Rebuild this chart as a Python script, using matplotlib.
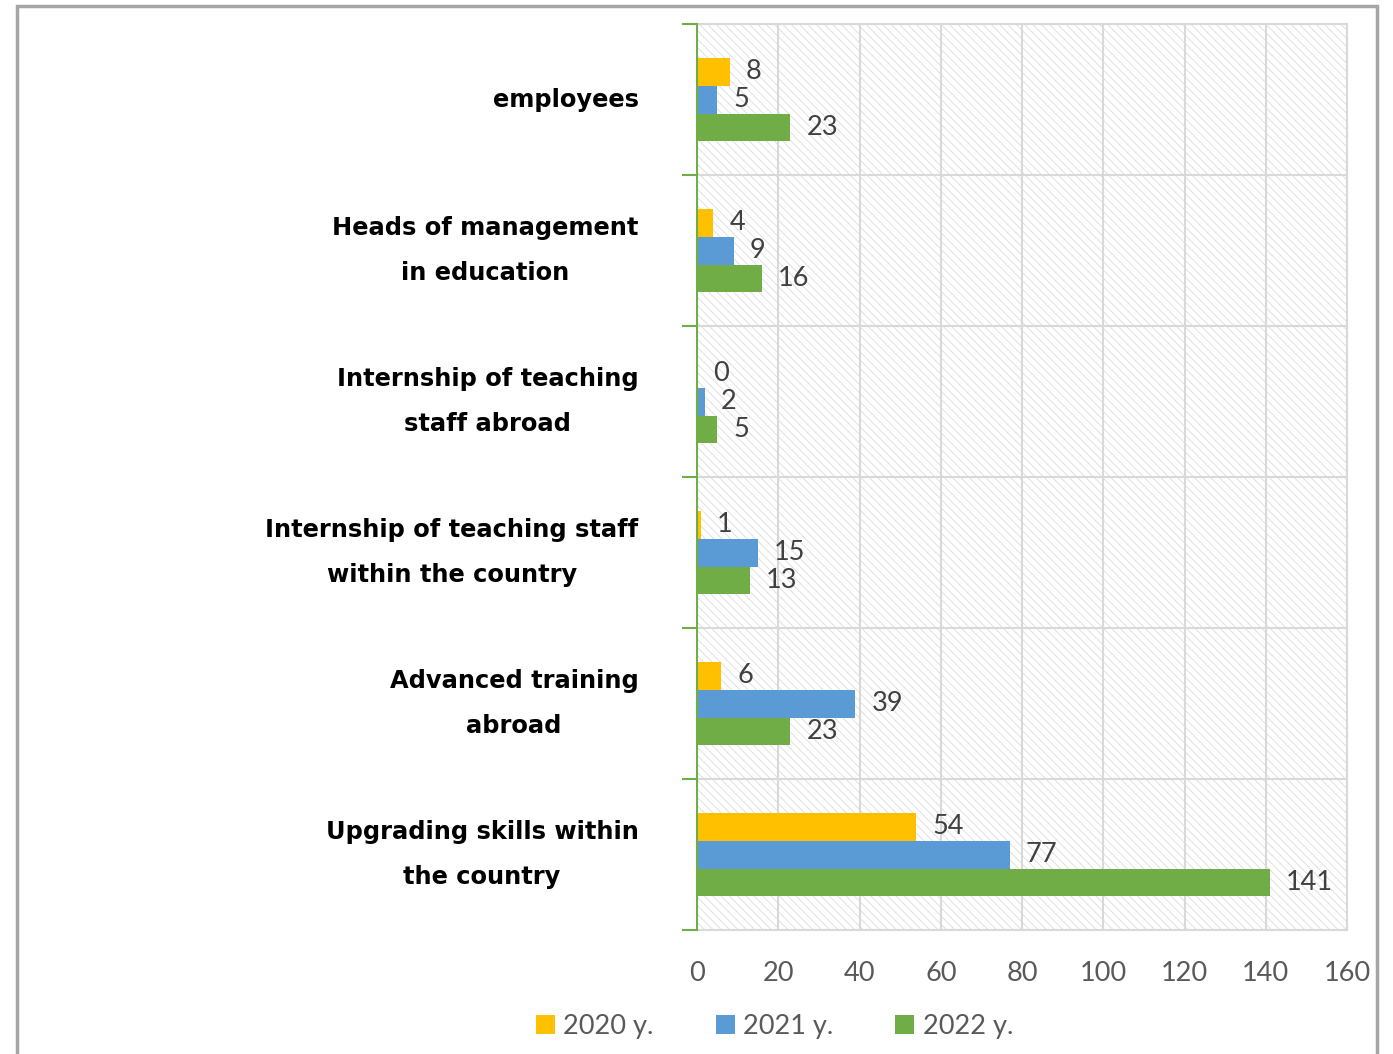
import matplotlib
matplotlib.use("Agg")
import matplotlib.pyplot as plt
import matplotlib.patches as mpatches
import numpy as np

# data, top category first
categories = [
    "employees",
    "Heads of management\nin education",
    "Internship of teaching\nstaff abroad",
    "Internship of teaching staff\nwithin the country",
    "Advanced training\nabroad",
    "Upgrading skills within\nthe country",
]
series_names = ["2020 y.", "2021 y.", "2022 y."]
values_2020 = [8, 4, 0, 1, 6, 54]
values_2021 = [5, 9, 2, 15, 39, 77]
values_2022 = [23, 16, 5, 13, 23, 141]
x_ticks = [0, 20, 40, 60, 80, 100, 120, 140, 160]

colors = ["#FFC000", "#5B9BD5", "#70AD47"]
num_font = "Lato"
num_size = 19.5

plt.rcParams["hatch.linewidth"] = 0.6

fig = plt.figure(figsize=(13.93, 10.54), dpi=100)
ax = fig.add_axes([0.5004, 0.1176, 0.4666, 0.8596])

# hatched background like the excel plot area
bg = mpatches.Rectangle((0, 0), 1, 1, transform=ax.transAxes, facecolor="white",
                        edgecolor="#DCDCDC", hatch="\\\\\\\\", linewidth=0, zorder=0)
ax.add_patch(bg)

y = np.arange(len(categories))
h = 0.185
all_vals = [values_2020, values_2021, values_2022]
for i, (vals, name, col) in enumerate(zip(all_vals, series_names, colors)):
    pos = y + (i - 1) * h
    ax.barh(pos, vals, height=h, color=col, label=name, zorder=3)
    for p, v in zip(pos, vals):
        ax.annotate(str(v), (v, p), xytext=(11.5, 0), textcoords="offset points",
                    ha="left", va="center", fontsize=num_size, color="#404040",
                    family=num_font, zorder=4)

ax.set_xlim(0, 160)
ax.set_ylim(len(categories) - 0.5, -0.5)
ax.set_xticks(x_ticks)
ax.set_xticklabels([str(t) for t in x_ticks], fontsize=num_size, color="#595959", family=num_font)
ax.tick_params(axis="x", length=0, pad=22)

# category boundaries as ticks + gridlines
bounds = np.arange(-0.5, len(categories), 1.0)
ax.set_yticks(bounds)
ax.set_yticklabels([])
ax.tick_params(axis="y", length=11, width=1.5, color="#70AD47", direction="out")
for b in bounds:
    ax.axhline(b, color="#D9D9D9", linewidth=1.5, zorder=1)
for t in x_ticks[1:]:
    ax.axvline(t, color="#D9D9D9", linewidth=1.5, zorder=1)

for yy, lab in zip(y, categories):
    ax.text(-0.09, yy, lab, transform=ax.get_yaxis_transform(), ha="right", va="center",
            multialignment="center", fontsize=17.4, fontweight="bold",
            family="DejaVu Sans", linespacing=2.1, color="black")

for s in ["top", "right", "bottom"]:
    ax.spines[s].set_color("#D9D9D9")
    ax.spines[s].set_linewidth(1.5)
ax.spines["left"].set_color("#70AD47")
ax.spines["left"].set_linewidth(1.5)
ax.spines["left"].set_zorder(5)

leg = fig.legend(loc="center", bbox_to_anchor=(0.556, 0.026), ncol=3, frameon=False,
                 handlelength=0.7, handleheight=0.7, handletextpad=0.3, columnspacing=2.3,
                 prop={"family": num_font, "size": num_size})
for t in leg.get_texts():
    t.set_color("#595959")

# outer chart border
border = mpatches.Rectangle((17 / 1393, -0.05), (1377 - 17) / 1393, 1.05 - 6 / 1054,
                            transform=fig.transFigure, fill=False, edgecolor="#A6A6A6",
                            linewidth=2.5)
fig.patches.append(border)

fig.savefig("out.png", dpi=100)
